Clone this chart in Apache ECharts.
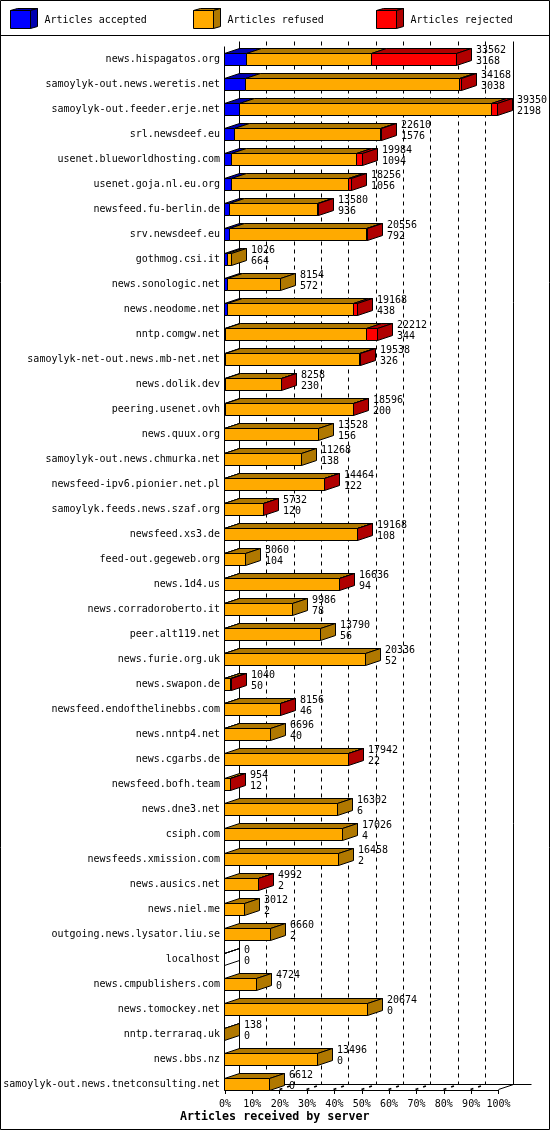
<!DOCTYPE html>
<html>
<head>
<meta charset="utf-8">
<style>html,body{margin:0;padding:0;background:#fff}#c{width:550px;height:1130px}</style>
<script src="https://cdn.jsdelivr.net/npm/echarts@6/dist/echarts.min.js"></script>
</head>
<body>
<div id="c"></div>
<script>
const servers = ["news.hispagatos.org","samoylyk-out.news.weretis.net","samoylyk-out.feeder.erje.net","srl.newsdeef.eu","usenet.blueworldhosting.com","usenet.goja.nl.eu.org","newsfeed.fu-berlin.de","srv.newsdeef.eu","gothmog.csi.it","news.sonologic.net","news.neodome.net","nntp.comgw.net","samoylyk-net-out.news.mb-net.net","news.dolik.dev","peering.usenet.ovh","news.quux.org","samoylyk-out.news.chmurka.net","newsfeed-ipv6.pionier.net.pl","samoylyk.feeds.news.szaf.org","newsfeed.xs3.de","feed-out.gegeweb.org","news.1d4.us","news.corradoroberto.it","peer.alt119.net","news.furie.org.uk","news.swapon.de","newsfeed.endofthelinebbs.com","news.nntp4.net","news.cgarbs.de","newsfeed.bofh.team","news.dne3.net","csiph.com","newsfeeds.xmission.com","news.ausics.net","news.niel.me","outgoing.news.lysator.liu.se","localhost","news.cmpublishers.com","news.tomockey.net","nntp.terraraq.uk","news.bbs.nz","samoylyk-out.news.tnetconsulting.net"];
const acceptedPct = [7.9,7.6,5.4,3.5,2.4,2.4,1.9,1.7,1.2,1.0,1.0,0.5,0.5,0.3,0.2,0.1,0.1,0.1,0.1,0.1,0.1,0.1,0.1,0.1,0.1,0.05,0.05,0.05,0,0,0,0,0,0,0,0,0,0,0,0,0,0];
const refusedPct = [45.7,78.4,92.1,53.7,45.9,43.0,32.2,50.2,1.2,19.4,46.3,51.6,48.9,20.5,46.8,34.1,28.2,36.4,14.1,48.5,7.5,41.9,24.9,34.9,51.4,2.3,20.3,16.7,45.2,2.1,41.2,43.0,41.6,12.3,7.3,16.7,0,11.6,52.2,0.15,33.9,16.6];
const rejectedPct = [31.3,0.5,2.4,0.2,2.3,0.9,0.3,0.3,0,0,1.2,4.0,0.2,0.1,0.1,0,0,0.1,0.1,0.1,0,0.1,0,0,0,0.1,0.1,0,0.1,0.1,0,0,0,0.1,0,0,0,0,0,0,0,0];
const labelTop = ["33562","34168","39350","22610","19984","18256","13580","20556","1026","8154","19168","22212","19538","8258","18596","13528","11268","14464","5732","19168","3060","16636","9986","13790","20336","1040","8156","6696","17942","954","16302","17026","16458","4992","3012","6660","0","4724","20674","138","13496","6612"];
const labelBottom = ["3168","3038","2198","1576","1094","1056","936","792","664","572","438","344","326","230","200","156","138","122","120","108","104","94","78","56","52","50","46","40","22","12","6","4","2","2","2","2","0","0","0","0","0","0"];
const legendNames = ["Articles accepted","Articles refused","Articles rejected"];
const axisTicks = [0,10,20,30,40,50,60,70,80,90,100];
const xTitle = "Articles received by server";

const FONT = '"DejaVu Sans Mono", monospace';
const DX = 15, DY = 5, BAR_H = 12, SHIFT = 6.5;
const faces = {
  accepted: {front:'#0000ff', dark:'#0000b0'},
  refused:  {front:'#ffaa00', dark:'#b07800'},
  rejected: {front:'#ff0000', dark:'#b00000'}
};
const snap = v => Math.round(v) - 0.5;
const ink = {stroke:'#000', lineWidth:1};

function segmentItem(kind) {
  return function (params, api) {
    const start = api.value(0), end = api.value(1), idx = api.value(2), isLast = api.value(3);
    const empty = api.value(4);
    if (end <= start && !empty) return {type:'group', children:[]};
    const p0 = api.coord([start, idx]), p1 = api.coord([end, idx]);
    const x0 = snap(p0[0]), x1 = snap(p1[0]);
    const cy = p0[1] + SHIFT;
    const top = snap(cy - BAR_H / 2 + 0.5), bot = top + BAR_H;
    const c = faces[kind];
    const kids = [];
    kids.push({type:'polygon', shape:{points:[[x0,top],[x1,top],[x1+DX,top-DY],[x0+DX,top-DY]]},
      style:{fill:empty?'none':c.dark, ...ink}});
    if (isLast || empty) {
      kids.push({type:'polygon', shape:{points:[[x1,top],[x1,bot],[x1+DX,bot-DY],[x1+DX,top-DY]]},
        style:{fill:empty?'none':c.dark, ...ink}});
    }
    kids.push({type:'rect', shape:{x:x0,y:top,width:x1-x0,height:bot-top},
      style:{fill:c.front, ...ink}});
    return {type:'group', children:kids};
  };
}

const rowsA = [], rowsR = [], rowsX = [], rowsL = [];
servers.forEach((s, i) => {
  const a = acceptedPct[i], r = refusedPct[i], x = rejectedPct[i];
  const empty = a + r + x === 0 ? 1 : 0;
  rowsA.push([0, a, i, (r === 0 && x === 0) ? 1 : 0, 0]);
  rowsR.push([a, a + r, i, x === 0 ? 1 : 0, empty]);
  rowsX.push([a + r, a + r + x, i, 1, 0]);
  rowsL.push([a + r + x, i, labelTop[i], labelBottom[i]]);
});

function planeItem(params, api) {
  const t = api.value(0);
  const g = params.coordSys;
  const x = snap(api.coord([t, 0])[0]);
  const yFront = g.y + g.height - 0.5;
  const yBack = yFront - DY;
  const topY = g.y + 1.5;
  const kids = [];
  if (t === 0 || t === 100) {
    kids.push({type:'line', shape:{x1:x+DX,y1:topY,x2:x+DX,y2:yBack}, style:{...ink}});
  } else {
    kids.push({type:'line', shape:{x1:x+DX,y1:topY,x2:x+DX,y2:yBack}, style:{...ink, lineDash:[4,4]}});
    kids.push({type:'line', shape:{x1:x,y1:yFront,x2:x+DX,y2:yBack},
      style:{stroke:'#000', lineWidth:1.6, lineDash:[3,5,3,99]}});
  }
  if (t === 0) {
    kids.push({type:'line', shape:{x1:x,y1:topY+DY,x2:x,y2:yFront}, style:{...ink}});
    kids.push({type:'line', shape:{x1:x+DX,y1:yBack,x2:x+DX+292,y2:yBack}, style:{...ink}});
  }
  if (t === 100) {
    kids.push({type:'line', shape:{x1:x,y1:yFront,x2:x+DX,y2:yBack}, style:{...ink}});
  }
  return {type:'group', children:kids};
}

function labelItem(params, api) {
  const p = api.coord([api.value(0), api.value(1)]);
  const x = snap(p[0]) + DX + 4.5;
  const cy = p[1] + SHIFT;
  const txt = (t, y) => ({type:'text', style:{text:t, x:x, y:y, fill:'#000',
    font:'10px ' + FONT, textAlign:'left', textVerticalAlign:'middle'}});
  return {type:'group', children:[txt(api.value(2), cy - 9), txt(api.value(3), cy + 2)]};
}

function legendCube(x, name, kind) {
  const c = faces[kind];
  const t = 10.5, b = 28.5, r = x + 20, dx = 7, dy = 2;
  return [
    {type:'polygon', shape:{points:[[x,t],[r,t],[r+dx,t-dy],[x+dx,t-dy]]}, style:{fill:c.dark, ...ink}},
    {type:'polygon', shape:{points:[[r,t],[r,b],[r+dx,b-dy],[r+dx,t-dy]]}, style:{fill:c.dark, ...ink}},
    {type:'rect', shape:{x:x,y:t,width:20,height:b-t}, style:{fill:c.front, ...ink}},
    {type:'text', style:{text:name, x:x+34, y:20.5, fill:'#000', font:'10px ' + FONT,
      textAlign:'left', textVerticalAlign:'middle'}}
  ];
}

const chart = echarts.init(document.getElementById('c'), null, {renderer:'canvas', width:550, height:1130});
chart.setOption({
  animation:false,
  backgroundColor:'#fff',
  title:{text:xTitle, left:180, top:1111, padding:0,
    textStyle:{fontFamily:FONT, fontWeight:'bold', fontSize:11.67, color:'#000', lineHeight:12}},
  tooltip:{show:false},
  grid:{left:225, top:40, width:273.5, height:1050, containLabel:false},
  xAxis:{type:'value', min:0, max:100, interval:10, position:'bottom',
    splitLine:{show:false},
    axisLine:{show:true, lineStyle:{color:'#000', width:1}},
    axisTick:{show:true, length:4, lineStyle:{color:'#000', width:1}},
    axisLabel:{show:true, formatter:'{value}%', margin:9, color:'#000', fontFamily:FONT, fontSize:10, hideOverlap:false, showMinLabel:true, showMaxLabel:true}},
  yAxis:{type:'category', inverse:true, data:servers,
    axisLine:{show:false}, axisTick:{show:false}, splitLine:{show:false},
    axisLabel:{interval:0, margin:5, color:'#000', fontFamily:FONT, fontSize:10, verticalAlign:'top', lineHeight:13}},
  graphic:{elements:[
    {type:'rect', silent:true, z:100, shape:{x:0.5,y:0.5,width:549,height:1129}, style:{fill:'none', ...ink}},
    {type:'line', silent:true, z:100, shape:{x1:0,y1:35.5,x2:550,y2:35.5}, style:{...ink}},
    {type:'group', silent:true, z:100, children:[
      ...legendCube(10.5, legendNames[0], 'accepted'),
      ...legendCube(193.5, legendNames[1], 'refused'),
      ...legendCube(376.5, legendNames[2], 'rejected')
    ]}
  ]},
  series:[
    {type:'custom', name:'grid', clip:false, silent:true, data:axisTicks.map(t=>[t]),
      encode:{x:0}, renderItem:planeItem},
    {type:'custom', name:legendNames[0], clip:false, silent:true, data:rowsA, encode:{x:[0,1],y:2}, renderItem:segmentItem('accepted')},
    {type:'custom', name:legendNames[1], clip:false, silent:true, data:rowsR, encode:{x:[0,1],y:2}, renderItem:segmentItem('refused')},
    {type:'custom', name:legendNames[2], clip:false, silent:true, data:rowsX, encode:{x:[0,1],y:2}, renderItem:segmentItem('rejected')},
    {type:'custom', name:'labels', clip:false, silent:true, data:rowsL, encode:{x:0,y:1}, renderItem:labelItem}
  ]
});
</script>
</body>
</html>
